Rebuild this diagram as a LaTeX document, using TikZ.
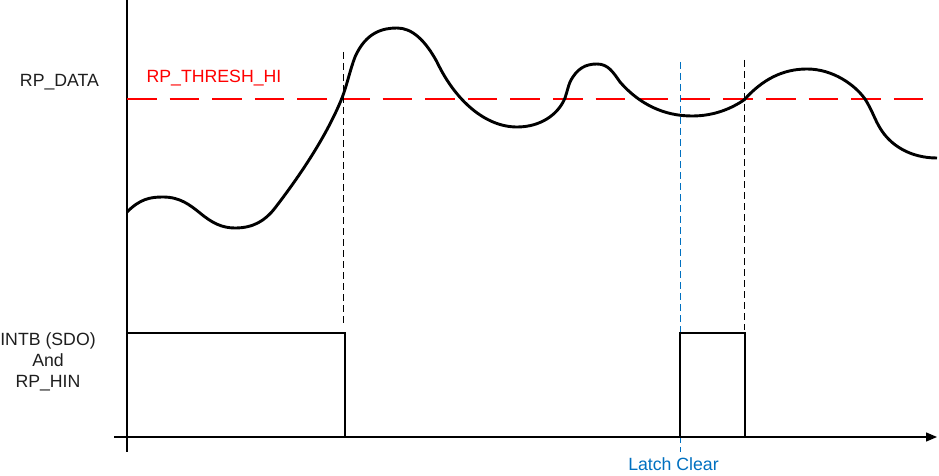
\documentclass[tikz,border=0pt]{standalone}
\usepackage{fontspec}
\setmainfont{Liberation Sans}
\usetikzlibrary{arrows.meta}
\definecolor{threshred}{RGB}{255,0,0}
\definecolor{latchblue}{RGB}{0,112,192}
\definecolor{textgray}{RGB}{30,30,30}
\begin{document}
\begin{tikzpicture}[x=1pt,y=-1pt,
  lbl/.style={font=\fontsize{17.7}{21}\selectfont, inner sep=0pt, align=center, text=textgray},
  axisline/.style={line width=1.4pt},
  sigline/.style={line width=2.9pt, line join=miter},
  guide/.style={line width=1pt, dash pattern=on 7pt off 4pt},
  thresh/.style={threshred, line width=2pt, dash pattern=on 29.5pt off 13.1pt}]
\useasboundingbox (0,0) rectangle (939,476);
% coordinates
\coordinate (ytop) at (127,0);
\coordinate (ybot) at (127,452);
\coordinate (xl) at (114,437);
\coordinate (xr) at (937,437);
\coordinate (thl) at (127,99);
\coordinate (thr) at (924,99);
\coordinate (g1t) at (343,52);
\coordinate (g1b) at (343,325);
\coordinate (g2t) at (744,60);
\coordinate (g2b) at (744,330);
\coordinate (bt) at (680,62);
\coordinate (bb) at (680,452);
\coordinate (s0) at (127,333);
\coordinate (s1) at (345,333);
\coordinate (s2) at (345,437);
\coordinate (s3) at (680,437);
\coordinate (s4) at (680,333);
\coordinate (s5) at (745,333);
\coordinate (s6) at (745,437);
\coordinate (s7) at (917,437);
% labels
\node[lbl, anchor=base] (rpdata) at (59.5,87) {RP\_DATA};
\node[lbl, anchor=base, text=threshred] (thlabel) at (214,83) {RP\_THRESH\_HI};
\node[lbl, anchor=center] (intb) at (48,362) {INTB (SDO)\\And\\RP\_HIN};
\node[lbl, anchor=base, text=latchblue] (latch) at (673.5,470) {Latch Clear};
% axes
\draw[axisline] (ytop) -- (ybot);
\draw[axisline, -{Triangle[length=11pt,width=9pt]}] (xl) -- (xr);
% threshold
\draw[thresh] (thl) -- (thr);
% guides
\draw[guide] (g1t) -- (g1b);
\draw[guide] (g2t) -- (g2b);
\draw[guide, latchblue] (bt) -- (bb);
% data curve
\draw[sigline, line join=round]
 (127,212) .. controls (140,199) and (150,197) .. (163,197)
 .. controls (180,197) and (190,205) .. (200,213)
 .. controls (212,223) and (222,228) .. (235,228)
 .. controls (253,228) and (265,221) .. (275,208)
 .. controls (295,182) and (325,140) .. (342,98)
 .. controls (347,85) and (350,70) .. (355,57)
 .. controls (366,32) and (383,28) .. (397,28)
 .. controls (412,28) and (425,40) .. (437,62)
 .. controls (455,100) and (485,127) .. (517,127)
 .. controls (540,127) and (558,115) .. (565,98)
 .. controls (567,92) and (568,87) .. (570,82)
 .. controls (577,68) and (586,64) .. (597,64)
 .. controls (608,64) and (613,72) .. (620,82)
 .. controls (640,105) and (665,116) .. (692,116)
 .. controls (715,116) and (732,108) .. (744,100)
 .. controls (762,80) and (782,69) .. (807,69)
 .. controls (833,69) and (855,85) .. (865,99)
 .. controls (872,110) and (875,120) .. (880,128)
 .. controls (890,145) and (910,158) .. (937,158);
% digital signal
\draw[sigline] (s0) -- (s1) -- (s2) -- (s3) -- (s4) -- (s5) -- (s6) -- (s7);
\end{tikzpicture}
\end{document}
